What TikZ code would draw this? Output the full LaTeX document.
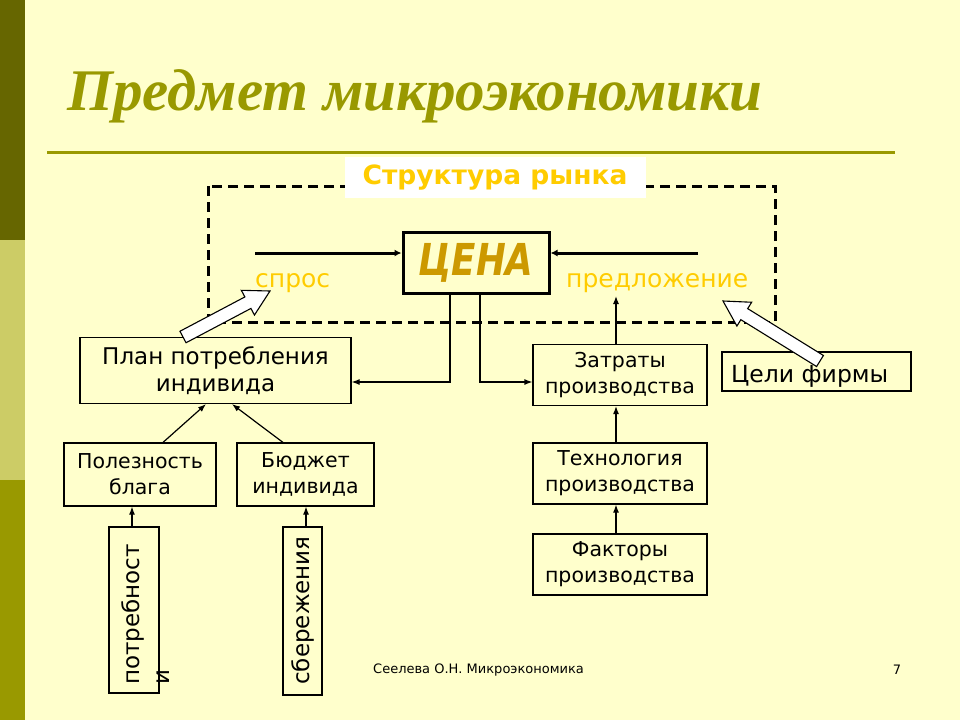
\documentclass[tikz,border=0pt]{standalone}
\usepackage{fontspec}
\setmainfont{DejaVu Sans}
\newfontfamily\titlefont{Liberation Serif}
\usetikzlibrary{arrows.meta,calc}
\definecolor{bgc}{HTML}{FFFFCC}
\definecolor{barA}{HTML}{666600}
\definecolor{barB}{HTML}{CCCC66}
\definecolor{barC}{HTML}{999900}
\definecolor{olive}{HTML}{999900}
\definecolor{goldA}{HTML}{FFCC00}
\definecolor{goldB}{HTML}{CC9900}
\tikzset{
  box/.style={draw=black, line width=1.2pt, rectangle, inner sep=0pt, align=center,
    font=\fontsize{20.5}{26}\selectfont},
  arr/.style={line width=1.2pt, -{Latex[length=8pt,width=6pt]}},
  thickarr/.style={line width=3pt, -{Latex[length=7pt,width=7pt]}},
  hollow/.style={fill=white, draw=black, line width=1.1pt, line join=miter},
}
\begin{document}
\begin{tikzpicture}[x=1pt,y=-1pt]
\useasboundingbox (0,0) rectangle (960,720);
\fill[bgc] (0,0) rectangle (960,720);
\fill[barA] (0,0) rectangle (25,240);
\fill[barB] (0,240) rectangle (25,480);
\fill[barC] (0,480) rectangle (25,720);
% title
\node[anchor=base west, inner sep=0pt, text=olive] (title) at (67,110)
  {\titlefont\bfseries\itshape\fontsize{59}{60}\selectfont Предмет микроэкономики};
\draw[olive, line width=3pt] (47,152) -- (895,152);
% dashed market box
\draw[black, line width=3pt, dash pattern=on 10pt off 6pt] (208,186) rectangle (775,322);
\node[fill=white, minimum width=301pt, minimum height=41pt, inner sep=0pt,
  text=goldA, font=\bfseries\fontsize{26.5}{30}\selectfont] (struct) at (495,177.5) {Структура рынка};
% price
\node[draw=black, line width=3pt, minimum width=146pt, minimum height=61pt, inner sep=0pt,
  text=goldB, font=\bfseries\itshape\fontsize{44}{50}\selectfont] (cena) at (476,262.5) {\scalebox{0.81}[1]{ЦЕНА}};
\coordinate (sl) at (255,253);
\coordinate (sr) at (698,253);
\draw[thickarr] (sl) -- ([yshift=9.5pt]cena.west);
\draw[thickarr] (sr) -- ([yshift=9.5pt]cena.east);
\node[anchor=base west, inner sep=0pt, text=goldA, font=\fontsize{25}{30}\selectfont] (spros) at (255,287) {спрос};
\node[anchor=base west, inner sep=0pt, text=goldA, font=\fontsize{25}{30}\selectfont] (predl) at (566,287) {предложение};
\coordinate (predlpt) at (616,296);
% boxes
\node[box, minimum width=271pt, minimum height=66pt, font=\fontsize{23}{27}\selectfont] (plan) at (215.5,370.5) {План потребления\\индивида};
\node[box, minimum width=152pt, minimum height=63pt] (pol) at (140,474.5) {Полезность\\блага};
\node[box, minimum width=137pt, minimum height=63pt] (bud) at (305.5,474.5) {Бюджет\\индивида};
\node[box, minimum width=174pt, minimum height=61pt] (zat) at (620,375) {Затраты\\производства};
\node[box, minimum width=174pt, minimum height=61pt] (tech) at (620,473.5) {Технология\\производства};
\node[box, minimum width=174pt, minimum height=61pt] (fak) at (620,564.5) {Факторы\\производства};
\node[box, minimum width=189pt, minimum height=39pt] (celi) at (816.5,371.5) {};
\node[box, minimum width=50pt, minimum height=166pt] (potr) at (134,610) {};
\node[box, minimum width=39pt, minimum height=168pt] (sber) at (302.5,611) {};
\node[rotate=90, inner sep=0pt, align=left, font=\fontsize{23}{30}\selectfont] (potrt) at (146,614.5) {потребност\\и};
\node[rotate=90, inner sep=0pt, font=\fontsize{23}{30}\selectfont] (sbert) at (303,610.5) {сбережения};
% connectors
\draw[arr] ([xshift=-2pt]potr.north) -- ([xshift=-2pt]potr.north |- pol.south);
\draw[arr] ([xshift=3.5pt]sber.north) -- ([xshift=3.5pt]sber.north |- bud.south);
\draw[arr] ([xshift=23pt]pol.north) -- ([xshift=-9.5pt]plan.south);
\draw[arr] ([xshift=-22.5pt]bud.north) -- ([xshift=16.5pt]plan.south);
\draw[arr] ([xshift=-4pt]fak.north) -- ([xshift=-4pt]tech.south);
\draw[arr] ([xshift=-4pt]tech.north) -- ([xshift=-4pt]zat.south);
\draw[arr] ([xshift=-4pt]zat.north) -- (predlpt);
\draw[arr] ([xshift=-26pt]cena.south) |- ([yshift=-11.5pt]plan.east);
\draw[arr] ([xshift=4pt]cena.south) |- ([yshift=-7pt]zat.west);
% hollow block arrows
\coordinate (a1t) at (183,337);
\coordinate (a1h) at (270,291);
\coordinate (a1b) at ($(a1h)!25pt!(a1t)$);
\filldraw[hollow] ($(a1t)!6.5pt!90:(a1h)$) -- ($(a1b)!6.5pt!-90:(a1t)$) -- ($(a1b)!14pt!-90:(a1t)$)
  -- (a1h) -- ($(a1b)!14pt!90:(a1t)$) -- ($(a1b)!6.5pt!90:(a1t)$) -- ($(a1t)!6.5pt!-90:(a1h)$) -- cycle;
\coordinate (a2t) at (820,361);
\coordinate (a2h) at (723,301);
\coordinate (a2b) at ($(a2h)!25pt!(a2t)$);
\filldraw[hollow] ($(a2t)!6.5pt!90:(a2h)$) -- ($(a2b)!6.5pt!-90:(a2t)$) -- ($(a2b)!14pt!-90:(a2t)$)
  -- (a2h) -- ($(a2b)!14pt!90:(a2t)$) -- ($(a2b)!6.5pt!90:(a2t)$) -- ($(a2t)!6.5pt!-90:(a2h)$) -- cycle;
\node[anchor=base west, inner sep=0pt, font=\fontsize{23.5}{28}\selectfont] (celit) at (731,382) {Цели фирмы};
% footer
\node[anchor=west, inner sep=0pt, font=\fontsize{13}{15}\selectfont] (foot) at (373,670) {Сеелева О.Н. Микроэкономика};
\node[inner sep=0pt, font=\fontsize{13}{15}\selectfont] (pg) at (897,670) {7};
\end{tikzpicture}
\end{document}
